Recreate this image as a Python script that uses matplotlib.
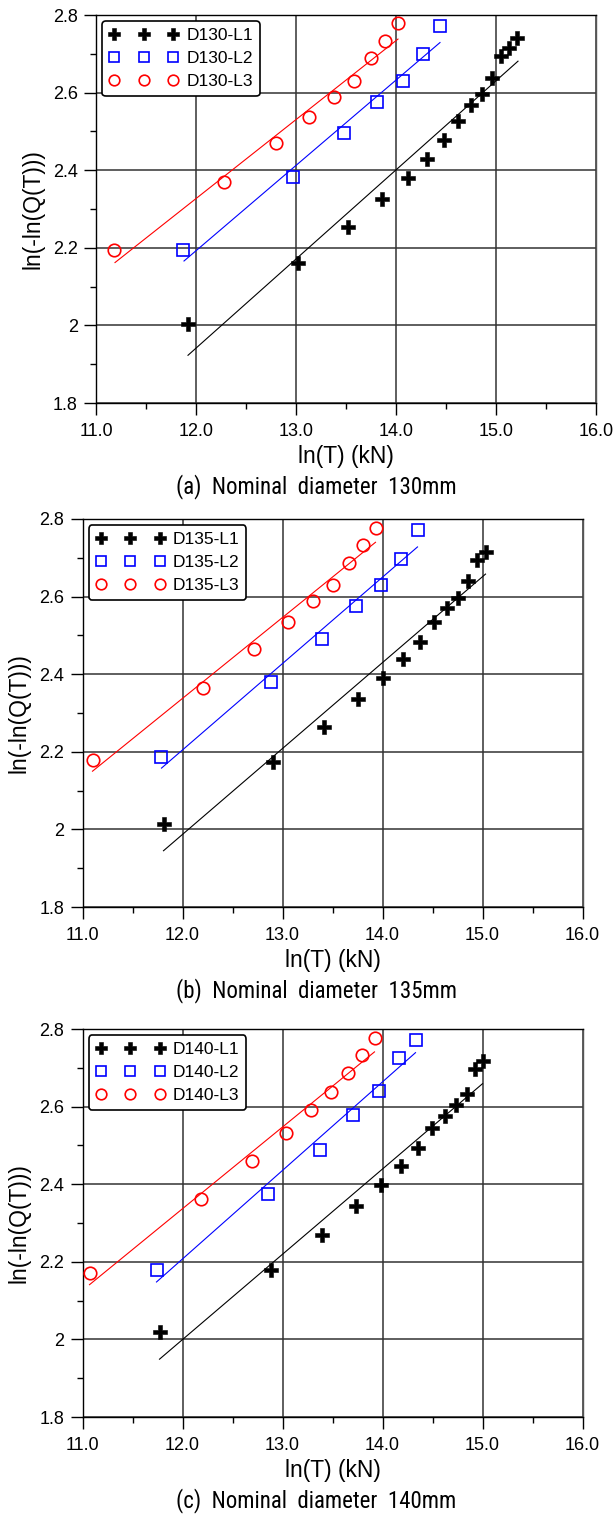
import matplotlib
matplotlib.use("Agg")
import matplotlib.pyplot as plt
from matplotlib import font_manager
from matplotlib.ticker import FixedLocator, MultipleLocator

# ---------------- data ----------------
x_ticks = [11.0, 12.0, 13.0, 14.0, 15.0, 16.0]
x_tick_labels = ["11.0", "12.0", "13.0", "14.0", "15.0", "16.0"]
y_ticks = [1.8, 2.0, 2.2, 2.4, 2.6, 2.8]
y_tick_labels = ["1.8", "2", "2.2", "2.4", "2.6", "2.8"]

captions = ["(a)  Nominal  diameter  130mm",
            "(b)  Nominal  diameter  135mm",
            "(c)  Nominal  diameter  140mm"]
series_names = [["D130-L1", "D130-L2", "D130-L3"],
                ["D135-L1", "D135-L2", "D135-L3"],
                ["D140-L1", "D140-L2", "D140-L3"]]

# panel (a) 130 mm
a_L1_x = [11.92, 13.02, 13.52, 13.86, 14.12, 14.31, 14.48, 14.62, 14.75, 14.86, 14.96, 15.05, 15.13, 15.21]
a_L1_y = [2.003, 2.162, 2.254, 2.325, 2.380, 2.428, 2.477, 2.527, 2.567, 2.596, 2.637, 2.694, 2.714, 2.741]
a_L2_x = [11.87, 12.97, 13.48, 13.81, 14.07, 14.27, 14.44]
a_L2_y = [2.194, 2.383, 2.495, 2.575, 2.631, 2.699, 2.771]
a_L3_x = [11.18, 12.28, 12.80, 13.13, 13.38, 13.58, 13.75, 13.89, 14.02]
a_L3_y = [2.194, 2.370, 2.469, 2.538, 2.588, 2.631, 2.688, 2.734, 2.779]
a_fit_L1_x = [11.92, 15.22]
a_fit_L1_y = [1.923, 2.681]
a_fit_L2_x = [11.88, 14.44]
a_fit_L2_y = [2.166, 2.729]
a_fit_L3_x = [11.19, 14.02]
a_fit_L3_y = [2.162, 2.738]

# panel (b) 135 mm
b_L1_x = [11.81, 12.90, 13.41, 13.75, 14.00, 14.20, 14.37, 14.51, 14.64, 14.75, 14.85, 14.94, 15.03]
b_L1_y = [2.015, 2.173, 2.265, 2.336, 2.390, 2.439, 2.482, 2.535, 2.570, 2.597, 2.640, 2.695, 2.715]
b_L2_x = [11.78, 12.88, 13.39, 13.73, 13.98, 14.18, 14.35]
b_L2_y = [2.187, 2.380, 2.491, 2.575, 2.631, 2.698, 2.771]
b_L3_x = [11.10, 12.20, 12.71, 13.05, 13.30, 13.50, 13.66, 13.80, 13.93]
b_L3_y = [2.180, 2.365, 2.464, 2.534, 2.588, 2.630, 2.687, 2.733, 2.777]
b_fit_L1_x = [11.81, 15.03]
b_fit_L1_y = [1.945, 2.658]
b_fit_L2_x = [11.79, 14.35]
b_fit_L2_y = [2.158, 2.728]
b_fit_L3_x = [11.10, 13.93]
b_fit_L3_y = [2.150, 2.740]

# panel (c) 140 mm
c_L1_x = [11.77, 12.88, 13.39, 13.73, 13.98, 14.18, 14.35, 14.49, 14.62, 14.73, 14.84, 14.92, 15.00]
c_L1_y = [2.018, 2.180, 2.270, 2.343, 2.398, 2.448, 2.493, 2.544, 2.575, 2.604, 2.632, 2.697, 2.717]
c_L2_x = [11.74, 12.85, 13.37, 13.70, 13.96, 14.16, 14.33]
c_L2_y = [2.180, 2.376, 2.487, 2.579, 2.640, 2.726, 2.771]
c_L3_x = [11.07, 12.18, 12.69, 13.03, 13.28, 13.48, 13.65, 13.79, 13.92]
c_L3_y = [2.171, 2.361, 2.461, 2.531, 2.592, 2.638, 2.687, 2.732, 2.777]
c_fit_L1_x = [11.77, 15.00]
c_fit_L1_y = [1.949, 2.659]
c_fit_L2_x = [11.74, 14.33]
c_fit_L2_y = [2.148, 2.739]
c_fit_L3_x = [11.07, 13.92]
c_fit_L3_y = [2.141, 2.741]

# ---------------- fonts ----------------
_fonts = font_manager.fontManager.ttflist
_names = {f.name for f in _fonts}


def pick(fams):
    for f in fams:
        if f in _names:
            return f
    return "DejaVu Sans"


MAIN = pick(["Liberation Sans", "Arial", "DejaVu Sans"])

# look for a narrow / condensed face for the captions
NARROW, NARROW_STRETCH = None, "normal"
for cand in ["Liberation Sans Narrow", "Arial Narrow", "Roboto Condensed",
             "Open Sans Condensed", "DejaVu Sans Condensed", "Noto Sans Condensed"]:
    if cand in _names:
        NARROW = cand
        break
if NARROW is None:
    for f in _fonts:
        st = str(f.stretch).lower()
        if ("condensed" in st or "narrow" in f.name.lower()
                or "condensed" in f.name.lower()) and f.style == "normal":
            NARROW, NARROW_STRETCH = f.name, f.stretch
            break
if NARROW is None:
    NARROW = pick(["Noto Sans CJK KR", "Liberation Sans"])

plt.rcParams["font.family"] = [MAIN, "DejaVu Sans"]

W, H = 613, 1517
fig = plt.figure(figsize=(W / 100, H / 100), dpi=100)

panels = [
    dict(left=96, top=15, pts=[(a_L1_x, a_L1_y), (a_L2_x, a_L2_y), (a_L3_x, a_L3_y)],
         fits=[(a_fit_L1_x, a_fit_L1_y), (a_fit_L2_x, a_fit_L2_y), (a_fit_L3_x, a_fit_L3_y)]),
    dict(left=82.5, top=519, pts=[(b_L1_x, b_L1_y), (b_L2_x, b_L2_y), (b_L3_x, b_L3_y)],
         fits=[(b_fit_L1_x, b_fit_L1_y), (b_fit_L2_x, b_fit_L2_y), (b_fit_L3_x, b_fit_L3_y)]),
    dict(left=82.5, top=1029, pts=[(c_L1_x, c_L1_y), (c_L2_x, c_L2_y), (c_L3_x, c_L3_y)],
         fits=[(c_fit_L1_x, c_fit_L1_y), (c_fit_L2_x, c_fit_L2_y), (c_fit_L3_x, c_fit_L3_y)]),
]
AW, AH = 500, 388

styles = [
    dict(marker="P", color="black", mfc="black", mec="black", ms=10, mew=0.4),
    dict(marker="s", color="blue", mfc="none", mec="blue", ms=8.8, mew=1.2),
    dict(marker="o", color="red", mfc="none", mec="red", ms=9.0, mew=1.2),
]
line_colors = ["black", "blue", "red"]

for i, p in enumerate(panels):
    ax = fig.add_axes([p["left"] / W, 1 - (p["top"] + AH) / H, AW / W, AH / H])
    ax.set_xlim(11.0, 16.0)
    ax.set_ylim(1.8, 2.8)

    for (fx, fy), lc in zip(p["fits"], line_colors):
        ax.plot(fx, fy, color=lc, lw=0.8, zorder=3)
    for (px, py), st, name in zip(p["pts"], styles, series_names[i]):
        ax.plot(px, py, ls="none", label=name, zorder=4, **st)

    ax.xaxis.set_major_locator(FixedLocator(x_ticks))
    ax.set_xticklabels(x_tick_labels)
    ax.yaxis.set_major_locator(FixedLocator(y_ticks))
    ax.set_yticklabels(y_tick_labels)
    ax.xaxis.set_minor_locator(MultipleLocator(0.5))
    ax.yaxis.set_minor_locator(MultipleLocator(0.1))
    ax.tick_params(which="major", direction="out", length=8.6, width=1.0,
                   labelsize=13, pad=4.5)
    ax.tick_params(which="minor", direction="out", length=4.6, width=1.0)
    ax.tick_params(axis="x", which="major", pad=6.0)
    ax.grid(True, which="major", color="#333333", lw=1.1)
    ax.set_axisbelow(True)
    for s in ax.spines.values():
        s.set_color("black")
        s.set_linewidth(1.0)
    ax.spines["right"].set_color("#555555")

    ax.set_xlabel("ln(T) (kN)", fontsize=16.5, va="center")
    ax.xaxis.set_label_coords(0.5, -53 / AH)
    ax.set_ylabel("ln(-ln(Q(T)))", fontsize=16.5, va="center")
    ax.yaxis.set_label_coords(-63 / AW, 0.5)

    leg = ax.legend(loc="upper left", numpoints=3, fontsize=12.5, handlelength=4.0,
                    handletextpad=0.45, borderaxespad=0.35, borderpad=0.4,
                    labelspacing=0.45, markerscale=0.85, fancybox=True,
                    framealpha=1.0, edgecolor="black")
    leg.get_frame().set_linewidth(1.2)

    fig.text(316 / W, 1 - (p["top"] + AH + 84) / H, captions[i], fontsize=16.5,
             family=[NARROW, "DejaVu Sans"], fontstretch=NARROW_STRETCH,
             ha="center", va="center")

fig.savefig("out.png", dpi=100)
